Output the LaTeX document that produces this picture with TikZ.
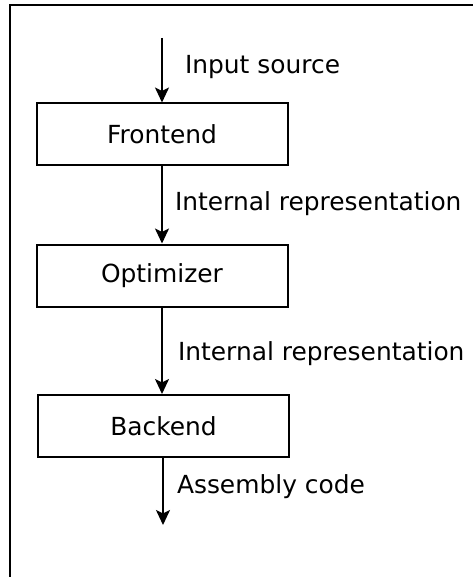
\documentclass[tikz,border=0pt]{standalone}
\usepackage{fontspec}
\setmainfont{DejaVu Sans}
\usetikzlibrary{arrows.meta}
\begin{document}
\begin{tikzpicture}[x=1pt,y=-1pt,line width=2pt,
  stagebox/.style={draw,line width=2pt,minimum width=251pt,minimum height=62pt,inner sep=0pt,font=\fontsize{24.9}{29}\selectfont},
  flowlbl/.style={anchor=base west,inner sep=0pt,font=\fontsize{24.9}{29}\selectfont},
  flowarrow/.style={-{Stealth[length=15pt,width=14pt,inset=3.5pt]},line width=2pt}]
\useasboundingbox (0,0) rectangle (473,577);
\draw[line width=2.2pt] (10,577) -- (10,5) -- (473,5);
\node[stagebox] (fe) at (162,134.5) {Frontend};
\node[stagebox] (op) at (162,275.5) {Optimizer};
\node[stagebox] (be) at (163.5,426) {Backend};
\coordinate (src) at (162,38);
\coordinate (out) at (163,525);
\draw[flowarrow] (src) -- (fe.north);
\draw[flowarrow] (fe.south) -- (op.north);
\draw[flowarrow] (op.south) -- (be.north -| op.south);
\draw[flowarrow] (be.south -| out) -- (out);
\node[flowlbl] (l1) at (184,74) {Input source};
\node[flowlbl] (l2) at (174,210.5) {Internal representation};
\node[flowlbl] (l3) at (177,360) {Internal representation};
\node[flowlbl] (l4) at (176,493) {Assembly code};
\end{tikzpicture}
\end{document}
